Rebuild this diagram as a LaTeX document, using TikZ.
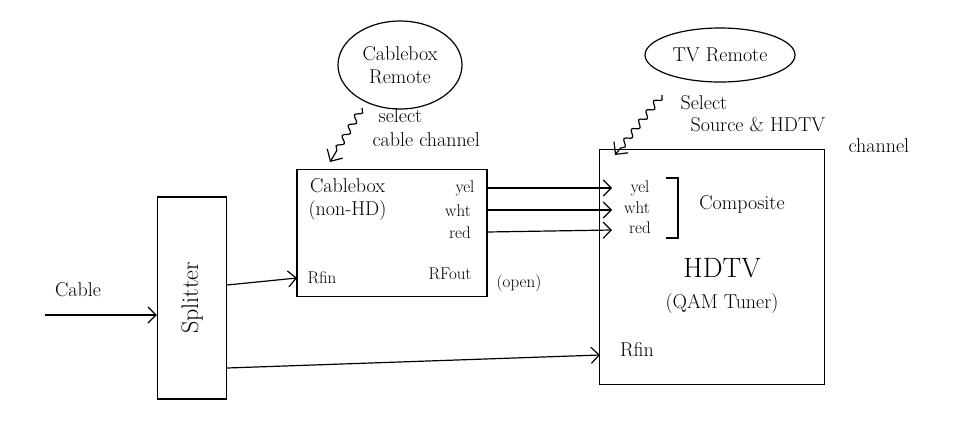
\documentclass[tikz,border=0pt]{standalone}
\usetikzlibrary{arrows.meta,decorations.pathmorphing,shapes.geometric}
\begin{document}
\begin{tikzpicture}[x=1pt,y=-1pt,line width=1.2pt,every path/.style={line width=1.2pt},
  box/.style={draw,inner sep=0},
  arr/.style={-{Straight Barb[length=8pt]}},
  sq/.style={-{Straight Barb[length=9pt]},decorate,decoration={snake,amplitude=3pt,segment length=12pt,post length=8pt}},
  txt/.style={font=\fontsize{20}{23}\selectfont,align=center},
  small/.style={font=\fontsize{17}{18}\selectfont,align=left,inner sep=1pt}]
\useasboundingbox (0,0) rectangle (960,437);
% splitter
\node[box,minimum width=69pt,minimum height=202pt] (spl) at (192,298) {};
\node[txt,rotate=90,font=\fontsize{24}{26}\selectfont] (spltxt) at (spl) {Splitter};
% cable input
\coordinate (cin) at (45,315);
\node[txt] (cable) at (78,290) {Cable};
\draw[arr] (cin) -- (cin -| spl.west);
% cablebox
\node[box,minimum width=190pt,minimum height=127pt] (cb) at (392,233) {};
\node[txt,anchor=north west,inner sep=0] (cbname) at (308,178) {Cablebox\\(non-HD)};
\node[small] (cy) at (465,188) {yel};
\node[small] (cw) at (458,211) {wht};
\node[small] (cr) at (460,233) {red};
\node[small] (cbrf) at (322,278) {Rfin};
\node[small] (cbout) at (450,274) {RFout};
\node[small] (open) at (519,283) {(open)};
% HDTV
\node[box,minimum width=225pt,minimum height=235pt] (tv) at (712,267) {};
\node[small] (ty) at (640,188) {yel};
\node[small] (tw) at (637,208) {wht};
\node[small] (tr) at (640,228) {red};
\draw (666,178) -- (678,178) -- (678,238) -- (666,238);
\node[txt] (comp) at (742,204) {Composite};
\node[font=\fontsize{28}{30}\selectfont] (hdtv) at (722,268) {HDTV};
\node[txt] (qam) at (722,304) {(QAM Tuner)};
\node[txt] (tvrf) at (637,350) {Rfin};
% connections
\coordinate (s1) at (227,285);
\coordinate (s2) at (227,368);
\draw[arr] (s1) -- (297,278);
\draw[arr] (s2) -- (600,355);
\draw[arr] (487,188) -- (612,188);
\draw[arr] (487,210) -- (612,210);
\draw[arr] (487,232) -- (612,230);
% remotes
\node[draw,ellipse,minimum width=124pt,minimum height=88pt,txt] (cbr) at (400,65) {Cablebox\\Remote};
\node[draw,ellipse,minimum width=150pt,minimum height=54pt,txt] (tvr) at (720,55) {TV Remote};
\coordinate (q1) at (362,108);
\coordinate (q2) at (662,95);
\draw[sq] (q1) -- (330,162);
\draw[sq] (q2) -- (615,155);
\node[txt,anchor=north west,inner sep=0] (sel1a) at (378,108) {select};
\node[txt,anchor=north west,inner sep=0] (sel1b) at (372,132) {cable channel};
\node[txt,anchor=north west,inner sep=0] (sel2a) at (680,95) {Select};
\node[txt,anchor=north west,inner sep=0] (sel2b) at (690,117) {Source \& HDTV};
\node[txt,anchor=north west,inner sep=0] (sel2c) at (848,138) {channel};
\end{tikzpicture}
\end{document}
